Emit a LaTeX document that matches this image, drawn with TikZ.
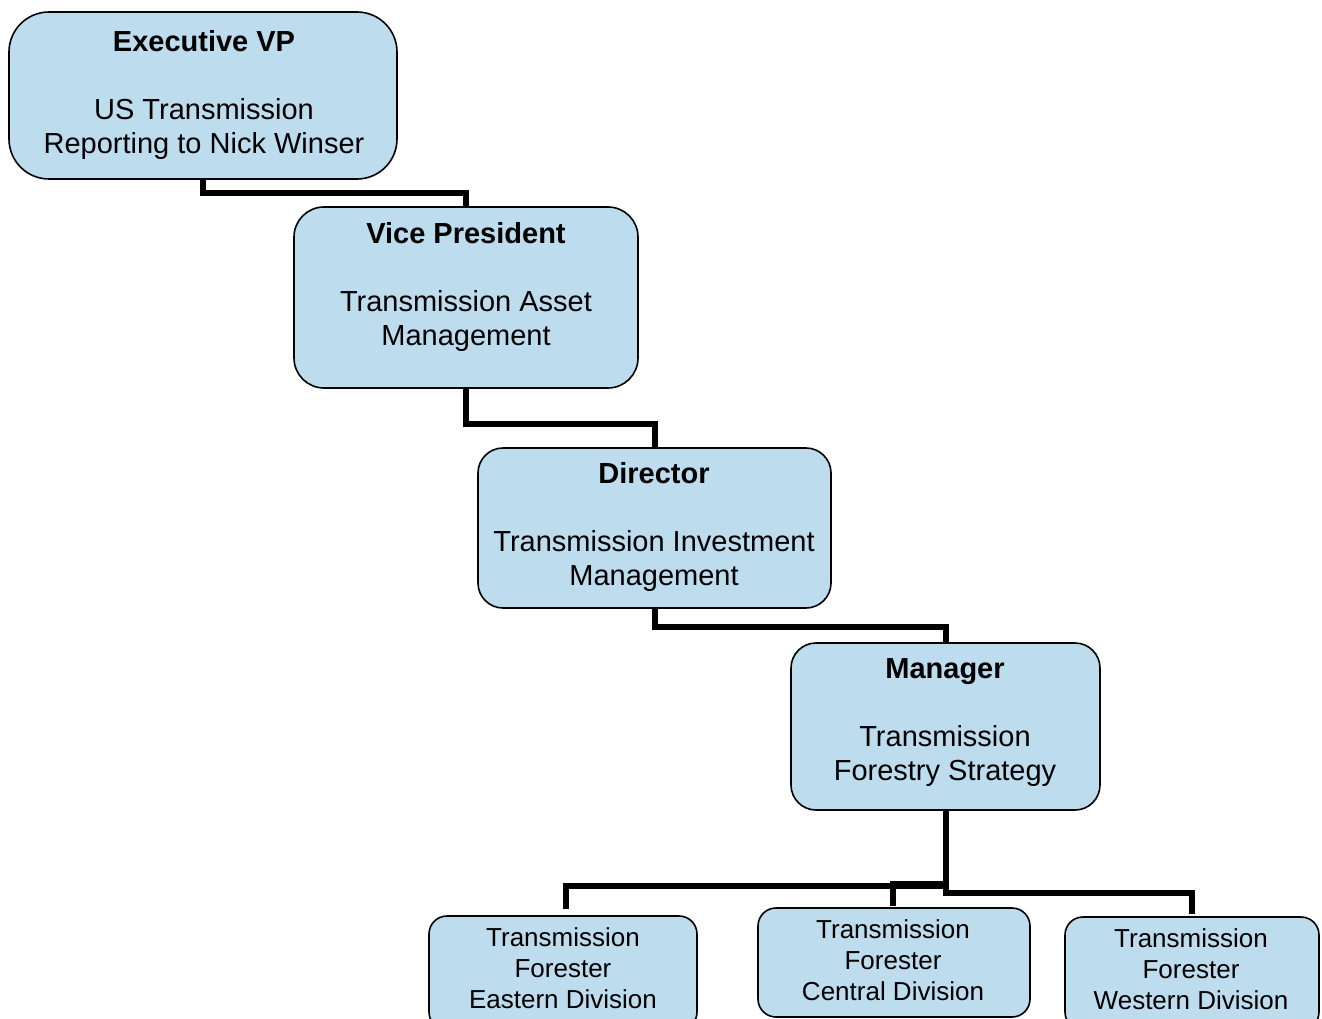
\documentclass[tikz,border=0pt]{standalone}
\usepackage{fontspec}
\setmainfont{Liberation Sans}
\definecolor{boxfill}{RGB}{189,220,238}
\begin{document}
\begin{tikzpicture}[x=1pt,y=1pt,
  box/.style={draw=black, line width=1.6pt, fill=boxfill, inner sep=0pt},
  txt/.style={align=center, inner sep=0pt, font=\fontsize{29}{34}\selectfont},
  stxt/.style={align=center, inner sep=0pt, font=\fontsize{26}{31}\selectfont},
  conn/.style={draw=black, line width=6pt, line join=miter}]
\useasboundingbox (0,0) rectangle (1322,-1019);
% boxes
\node[box, rounded corners=40pt, minimum width=388pt, minimum height=167pt] (evp) at (203,-95.5) {};
\node[box, rounded corners=30pt, minimum width=344pt, minimum height=181pt] (vp) at (466,-297.5) {};
\node[box, rounded corners=25pt, minimum width=353pt, minimum height=160pt] (dir) at (654.5,-528) {};
\node[box, rounded corners=25pt, minimum width=309pt, minimum height=167pt] (mgr) at (945.5,-726.5) {};
\node[box, rounded corners=18pt, minimum width=268pt, minimum height=114pt] (east) at (563,-973) {};
\node[box, rounded corners=18pt, minimum width=272pt, minimum height=109pt] (cent) at (894,-962.5) {};
\node[box, rounded corners=18pt, minimum width=254pt, minimum height=113pt] (west) at (1192,-973.5) {};
% texts
\node[txt] (evpt) at (204,-95) {\textbf{Executive VP}\\[34pt]US Transmission\\Reporting to Nick Winser};
\node[txt] (vpt) at (466,-287) {\textbf{Vice President}\\[34pt]Transmission Asset\\Management};
\node[txt] (dirt) at (654,-527) {\textbf{Director}\\[34pt]Transmission Investment\\Management};
\node[txt] (mgrt) at (945,-723) {\textbf{Manager}\\[34pt]Transmission\\Forestry Strategy};
\node[stxt] (eastt) at (563,-968) {Transmission\\Forester\\Eastern Division};
\node[stxt] (centt) at (893,-960.5) {Transmission\\Forester\\Central Division};
\node[stxt] (westt) at (1191,-969) {Transmission\\Forester\\Western Division};
% connectors
\draw[conn] (evp.south) -- ++(0,-13) -| (vp.north);
\draw[conn] (vp.south) -- ++(0,-35) -| (dir.north);
\draw[conn] (dir.south) -- ++(0,-18) -| (mgr.north);
\draw[conn, shorten >=6pt] (mgr.south) -- ++(0,-75) -| ([xshift=3pt]east.north);
\draw[conn, shorten >=1pt] (mgr.south) -- ++(0,-73) -| ([xshift=-1pt]cent.north);
\draw[conn, shorten >=2pt] (mgr.south) -- ++(0,-82) -| (west.north);
\end{tikzpicture}
\end{document}
